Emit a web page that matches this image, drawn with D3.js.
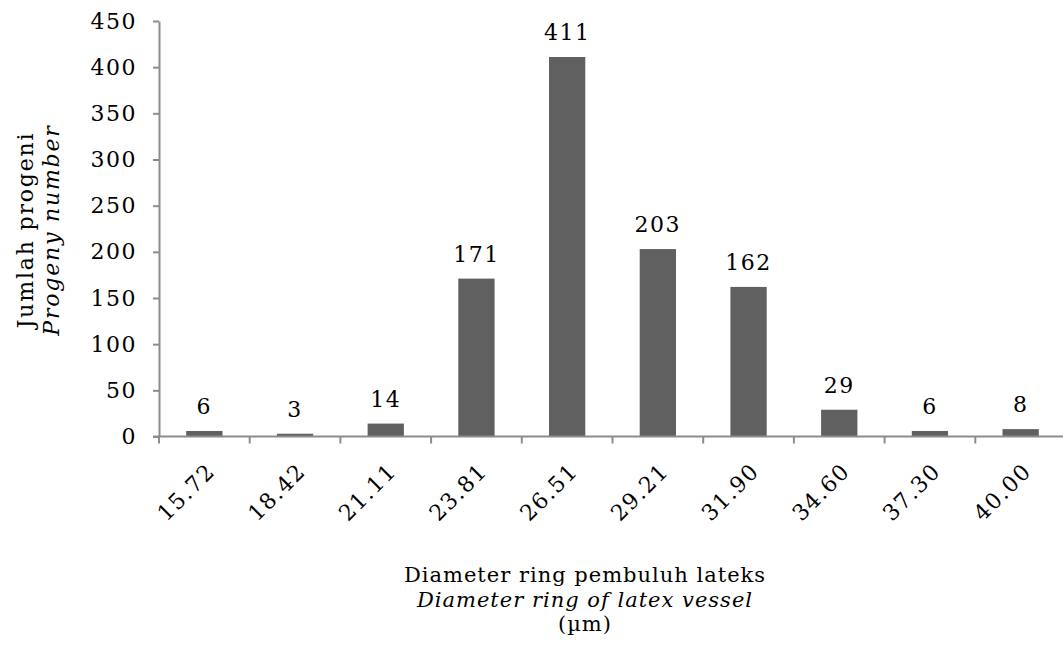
<!DOCTYPE html>
<html>
<head>
<meta charset="utf-8">
<script src="https://cdn.jsdelivr.net/npm/d3@7"></script>
<style>
  body { margin: 0; background: #fff; }
  text { font-family: "DejaVu Serif", serif; fill: #000; }
</style>
</head>
<body>
<div class="viz"></div>
<script>
var categories = ["15.72", "18.42", "21.11", "23.81", "26.51", "29.21", "31.90", "34.60", "37.30", "40.00"];
var counts = [6, 3, 14, 171, 411, 203, 162, 29, 6, 8];
var yTicks = [0, 50, 100, 150, 200, 250, 300, 350, 400, 450];

var w = 1063;
var h = 655;
var plotLeft = 159, plotRight = 1066, plotTop = 21, plotBottom = 436.5;
var barcolor = "#606060";
var axiscolor = "#8c8c8c";

var dataset = categories.map(function(c, i) {
    return { Label: c, Count: counts[i] };
});

var xScale = d3.scaleBand()
            .domain(categories)
            .range([plotLeft, plotRight])
            .paddingInner(0.6)
            .paddingOuter(0.3);

var yScale = d3.scaleLinear()
            .domain([0, 450])
            .range([plotBottom, plotTop]);

var svg = d3.select(".viz")
        .append("svg")
        .attr("width", w)
        .attr("height", h);

//Create bars
svg.selectAll("rect")
    .data(dataset)
    .enter()
    .append("rect")
    .attr("x", function(d) { return xScale(d.Label); })
    .attr("y", function(d) { return yScale(d.Count); })
    .attr("width", xScale.bandwidth())
    .attr("height", function(d) { return plotBottom - yScale(d.Count); })
    .attr("fill", barcolor);

//Value labels
svg.selectAll(".val")
    .data(dataset)
    .enter()
    .append("text")
    .attr("class", "val")
    .text(function(d) { return d.Count; })
    .attr("text-anchor", "middle")
    .attr("x", function(d) { return xScale(d.Label) + xScale.bandwidth() / 2; })
    .attr("y", function(d) { return yScale(d.Count) - 17; })
    .attr("font-size", "22px")
    .attr("letter-spacing", "1.5px");

//// AXES ////
var yAxis = d3.axisLeft(yScale)
            .tickValues(yTicks)
            .tickSize(6)
            .tickPadding(16)
            .tickSizeOuter(0);

var gy = svg.append("g")
     .attr("class", "y axis")
     .attr("transform", "translate(" + plotLeft + ",0)")
     .call(yAxis);
gy.select(".domain").attr("stroke", axiscolor).attr("stroke-width", 2);
gy.selectAll(".tick line").attr("stroke", axiscolor).attr("stroke-width", 2);
gy.selectAll(".tick text")
    .attr("font-family", "DejaVu Serif")
    .attr("font-size", "22px")
    .attr("letter-spacing", "1.5px")
    .attr("fill", "#000");

// x axis: ticks sit at band boundaries
var xAxisG = svg.append("g")
     .attr("class", "x axis");
xAxisG.append("line")
     .attr("x1", plotLeft - 6).attr("x2", plotRight)
     .attr("y1", plotBottom).attr("y2", plotBottom)
     .attr("stroke", axiscolor).attr("stroke-width", 2);

var step = xScale.step();
xAxisG.selectAll(".xt")
     .data(d3.range(categories.length))
     .enter()
     .append("line")
     .attr("class", "xt")
     .attr("x1", function(i) { return xScale(categories[i]) - step * 0.3; })
     .attr("x2", function(i) { return xScale(categories[i]) - step * 0.3; })
     .attr("y1", plotBottom)
     .attr("y2", plotBottom + 7)
     .attr("stroke", axiscolor).attr("stroke-width", 2);

xAxisG.selectAll(".xl")
     .data(dataset)
     .enter()
     .append("text")
     .attr("class", "xl")
     .attr("text-anchor", "end")
     .attr("transform", function(d) {
         var cx = xScale(d.Label) + xScale.bandwidth() / 2 + 12;
         return "translate(" + cx + "," + (plotBottom + 36) + ") rotate(-45)";
     })
     .attr("font-size", "22px")
     .attr("letter-spacing", "1.5px")
     .text(function(d) { return d.Label; });

//// AXIS LABELS ////
var xt = svg.append("text")
    .attr("text-anchor", "middle")
    .attr("font-size", "21px")
    .attr("letter-spacing", "1px");
xt.append("tspan").attr("x", 585).attr("y", 582).text("Diameter ring pembuluh lateks");
xt.append("tspan").attr("x", 585).attr("y", 607).attr("font-style", "italic").text("Diameter ring of  latex vessel");
xt.append("tspan").attr("x", 585).attr("y", 631).text("(\u00b5m)");

var yt = svg.append("text")
    .attr("transform", "translate(0," + 230 + ") rotate(-90)")
    .attr("text-anchor", "middle")
    .attr("font-size", "22px")
    .attr("letter-spacing", "1.8px");
yt.append("tspan").attr("x", 0).attr("y", 33).text("Jumlah progeni");
yt.append("tspan").attr("x", 0).attr("y", 59).attr("font-style", "italic").text("Progeny number");
</script>
</body>
</html>
